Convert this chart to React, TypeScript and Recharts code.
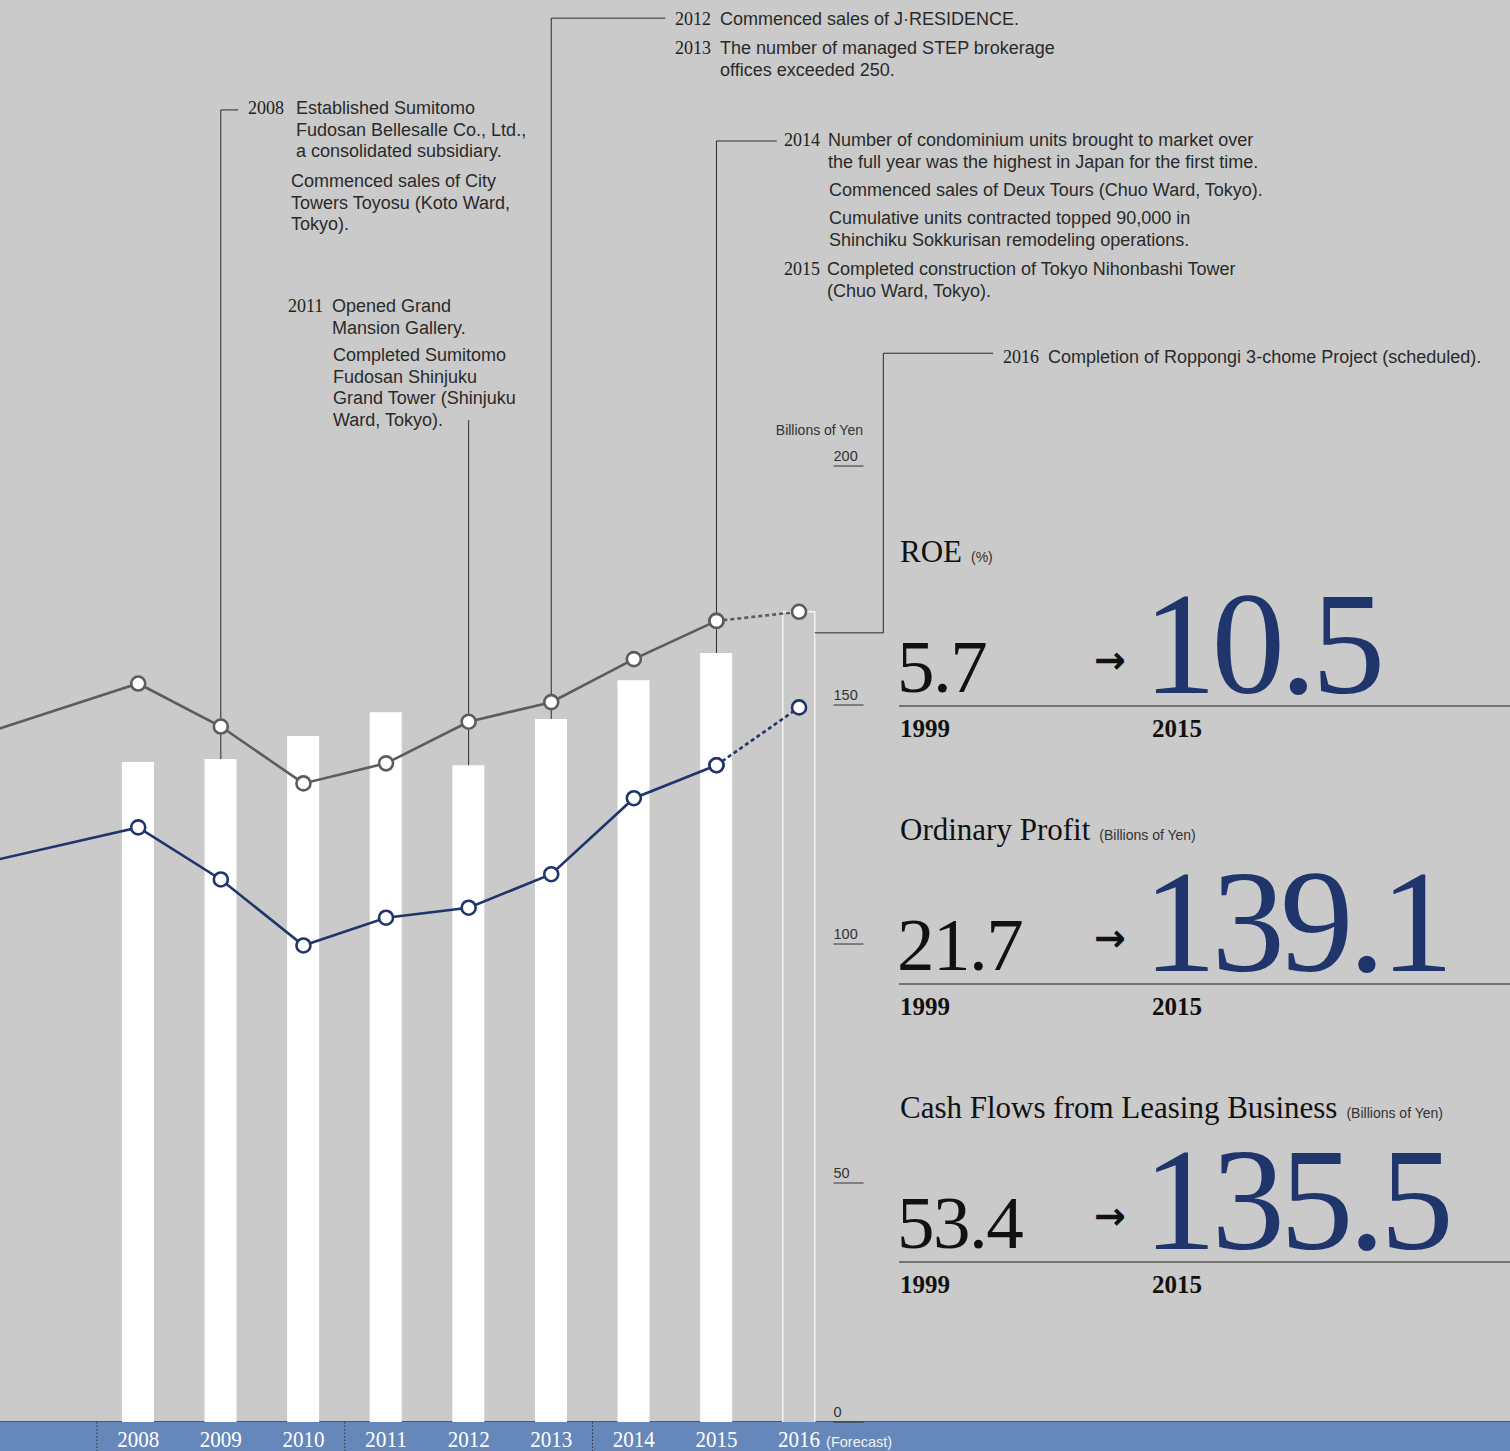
import React from 'react';
import { ComposedChart, Bar, Line, XAxis, YAxis, ReferenceLine, Cell } from 'recharts';

// fiscal years; 2006 is only the lead-in point that sits off the left edge
const years = [2006, 2008, 2009, 2010, 2011, 2012, 2013, 2014, 2015, 2016];
// Billions of Yen
const barValues = [null, 138.1, 138.7, 143.5, 148.5, 137.4, 147.1, 155.2, 160.9, 169.5];
const grayValues = [143.3, 154.5, 145.5, 133.6, 137.8, 146.5, 150.6, 159.6, 167.6, 169.5];
const navyValues = [116.5, 124.4, 113.5, 99.7, 105.5, 107.6, 114.6, 130.5, 137.4, 149.5];
const lastActualYear = 2015;
const forecastYear = 2016;

const xTicks = [2008, 2009, 2010, 2011, 2012, 2013, 2014, 2015, 2016];
const yTicks = [0, 50, 100, 150, 200];
const planBreaks = [2007.5, 2010.5, 2013.5];

const data = years.map((year, i) => ({
  year,
  bar: barValues[i],
  gray: year <= lastActualYear ? grayValues[i] : null,
  grayF: year >= lastActualYear ? grayValues[i] : null,
  navy: year <= lastActualYear ? navyValues[i] : null,
  navyF: year >= lastActualYear ? navyValues[i] : null,
}));

// leader lines from the bars up to the notes (axis units)
const leaders = [
  { year: 2009, top: 274.5, to: 2009.21 },
  { year: 2012, top: 209.6, to: null },
  { year: 2013, top: 293.7, to: 2014.38 },
  { year: 2015, top: 268.0, to: 2015.73 },
];
const leader2016 = { x: 2017.02, low: 165.1, top: 223.6, to: 2018.35, barEdge: 2016.19 };

const notes = [
  { year: '2012', yearX: 675, x: 720, y: 19, lines: ['Commenced sales of J·RESIDENCE.'] },
  { year: '2013', yearX: 675, x: 720, y: 48, lines: ['The number of managed STEP brokerage', 'offices exceeded 250.'] },
  { year: '2008', yearX: 248, x: 296, y: 108, lines: ['Established Sumitomo', 'Fudosan Bellesalle Co., Ltd.,', 'a consolidated subsidiary.'] },
  { year: '', yearX: 0, x: 291, y: 181, lines: ['Commenced sales of City', 'Towers Toyosu (Koto Ward,', 'Tokyo).'] },
  { year: '2011', yearX: 288, x: 332, y: 306, lines: ['Opened Grand', 'Mansion Gallery.'] },
  { year: '', yearX: 0, x: 333, y: 355, lines: ['Completed Sumitomo', 'Fudosan Shinjuku', 'Grand Tower (Shinjuku', 'Ward, Tokyo).'] },
  { year: '2014', yearX: 784, x: 828, y: 140, lines: ['Number of condominium units brought to market over', 'the full year was the highest in Japan for the first time.'] },
  { year: '', yearX: 0, x: 829, y: 190, lines: ['Commenced sales of Deux Tours (Chuo Ward, Tokyo).'] },
  { year: '', yearX: 0, x: 829, y: 218, lines: ['Cumulative units contracted topped 90,000 in', 'Shinchiku Sokkurisan remodeling operations.'] },
  { year: '2015', yearX: 784, x: 827, y: 269, lines: ['Completed construction of Tokyo Nihonbashi Tower', '(Chuo Ward, Tokyo).'] },
  { year: '2016', yearX: 1003, x: 1048, y: 357, lines: ['Completion of Roppongi 3-chome Project (scheduled).'] },
];

const metrics = [
  { title: 'ROE', unit: '(%)', from: '5.7', to: '10.5', fromYear: '1999', toYear: '2015' },
  { title: 'Ordinary Profit', unit: '(Billions of Yen)', from: '21.7', to: '139.1', fromYear: '1999', toYear: '2015' },
  { title: 'Cash Flows from Leasing Business', unit: '(Billions of Yen)', from: '53.4', to: '135.5', fromYear: '1999', toYear: '2015' },
];

const BG = '#c9cac9';
const GRAY = '#5c5c5c';
const NAVY = '#1f356b';
const SANS = '"Liberation Sans", Arial, sans-serif';
const SERIF = '"Liberation Serif", "Times New Roman", serif';

const YTick = ({ x, y, payload }: any) => (
  <g>
    <text x={x - 30} y={y - 5} fontSize={14.5} fill="#333" fontFamily={SANS}>
      {payload.value}
    </text>
    <line x1={x - 30} x2={x} y1={y} y2={y} stroke="#333" strokeWidth={1} />
  </g>
);

const XTick = ({ x, y, payload }: any) => (
  <g>
    <text
      x={x}
      y={y + 25}
      textAnchor="middle"
      fontSize={24}
      fontFamily={SERIF}
      fill="#fff"
      textLength={42}
      lengthAdjust="spacingAndGlyphs"
    >
      {payload.value}
    </text>
    {payload.value === forecastYear && (
      <text x={x + 27} y={y + 25} fontSize={14.5} fill="#f2f2f2" fontFamily={SANS}>
        (Forecast)
      </text>
    )}
  </g>
);

const dotStyle = (color: string) => ({
  r: 7,
  fill: '#fff',
  stroke: color,
  strokeWidth: 2.6,
  strokeDasharray: 'none',
});

export default function App() {
  return (
    <div
      style={{
        position: 'absolute',
        left: 0,
        top: 0,
        width: 1510,
        height: 1451,
        overflow: 'hidden',
        background: BG,
      }}
    >
      {/* axis band */}
      <div
        style={{
          position: 'absolute',
          left: 0,
          top: 1421,
          width: 1510,
          height: 30,
          background: '#6587ba',
          borderTop: '1.5px solid #4c5869',
        }}
      />
      <div style={{ position: 'absolute', left: -27.5, top: 0 }}>
        <ComposedChart
          width={1040.5}
          height={1451}
          data={data}
          margin={{ top: 0, right: 150, bottom: 0, left: 0 }}
        >
          <XAxis
            type="number"
            dataKey="year"
            domain={[2006, 2016.78]}
            allowDataOverflow
            ticks={xTicks}
            interval={0}
            tick={<XTick />}
            tickLine={false}
            axisLine={false}
            tickSize={0}
            tickMargin={0}
            height={29}
          />
          <YAxis
            orientation="right"
            mirror
            domain={[0, 297.5]}
            allowDataOverflow
            ticks={yTicks}
            interval={0}
            tick={<YTick />}
            tickLine={false}
            axisLine={false}
            tickSize={0}
            tickMargin={0}
          />
          {planBreaks.map((b) => (
            <ReferenceLine
              key={`plan-${b}`}
              segment={[{ x: b, y: 0 }, { x: b, y: -6.1 }]}
              ifOverflow="visible"
              stroke="#2b3445"
              strokeWidth={1}
              strokeDasharray="1.5 2"
            />
          ))}
          {leaders.map((l) => {
            const base = barValues[years.indexOf(l.year)] as number;
            return (
              <React.Fragment key={`lead-${l.year}`}>
                <ReferenceLine
                  segment={[{ x: l.year, y: base }, { x: l.year, y: l.top }]}
                  ifOverflow="visible"
                  stroke="#2a2a2a"
                  strokeWidth={1}
                />
                {l.to !== null && (
                  <ReferenceLine
                    segment={[{ x: l.year, y: l.top }, { x: l.to, y: l.top }]}
                    ifOverflow="visible"
                    stroke="#2a2a2a"
                    strokeWidth={1}
                  />
                )}
              </React.Fragment>
            );
          })}
          <ReferenceLine
            segment={[{ x: leader2016.barEdge, y: leader2016.low }, { x: leader2016.x, y: leader2016.low }]}
            ifOverflow="visible"
            stroke="#2a2a2a"
            strokeWidth={1}
          />
          <ReferenceLine
            segment={[{ x: leader2016.x, y: leader2016.low }, { x: leader2016.x, y: leader2016.top }]}
            ifOverflow="visible"
            stroke="#2a2a2a"
            strokeWidth={1}
          />
          <ReferenceLine
            segment={[{ x: leader2016.x, y: leader2016.top }, { x: leader2016.to, y: leader2016.top }]}
            ifOverflow="visible"
            stroke="#2a2a2a"
            strokeWidth={1}
          />
          <Bar dataKey="bar" barSize={32} isAnimationActive={false}>
            {data.map((d, i) => (
              <Cell
                key={`bar-${i}`}
                fill={d.year === forecastYear ? 'none' : '#ffffff'}
                stroke={d.year === forecastYear ? '#f4f4f4' : 'none'}
                strokeWidth={1.4}
              />
            ))}
          </Bar>
          <Line
            dataKey="gray"
            stroke={GRAY}
            strokeWidth={2.6}
            dot={dotStyle(GRAY)}
            activeDot={false}
            isAnimationActive={false}
          />
          <Line
            dataKey="grayF"
            stroke={GRAY}
            strokeWidth={2.6}
            strokeDasharray="4 3"
            dot={dotStyle(GRAY)}
            activeDot={false}
            isAnimationActive={false}
          />
          <Line
            dataKey="navy"
            stroke={NAVY}
            strokeWidth={2.6}
            dot={dotStyle(NAVY)}
            activeDot={false}
            isAnimationActive={false}
          />
          <Line
            dataKey="navyF"
            stroke={NAVY}
            strokeWidth={2.6}
            strokeDasharray="4 3"
            dot={dotStyle(NAVY)}
            activeDot={false}
            isAnimationActive={false}
          />
        </ComposedChart>
      </div>

      {/* notes and key figures */}
      <svg
        width={1510}
        height={1451}
        style={{ position: 'absolute', left: 0, top: 0, pointerEvents: 'none' }}
      >
        <text x={863} y={435} textAnchor="end" fontSize={14} fill="#333" fontFamily={SANS}>
          Billions of Yen
        </text>
        {notes.map((n, i) => (
          <g key={`note-${i}`}>
            {n.year && (
              <text x={n.yearX} y={n.y + 6} fontSize={18} fill="#222" fontFamily={SERIF}>
                {n.year}
              </text>
            )}
            {n.lines.map((line, j) => (
              <text key={j} x={n.x} y={n.y + 6 + j * 21.5} fontSize={18} fill="#2a2a2a" fontFamily={SANS}>
                {line}
              </text>
            ))}
          </g>
        ))}
        {metrics.map((m, i) => {
          const t = 706 + i * 278;
          return (
            <g key={`metric-${i}`}>
              <text x={900} y={t - 144} fontSize={31} fill="#111" fontFamily={SERIF}>
                {m.title}
                <tspan dx={9} fontSize={14} fill="#333" fontFamily={SANS}>
                  {m.unit}
                </tspan>
              </text>
              <text x={897} y={t - 14} fontSize={75} fill="#111" fontFamily={SERIF} letterSpacing={-1.5}>
                {m.from}
              </text>
              <text x={1110} y={t - 33} textAnchor="middle" fontSize={38} fontWeight="bold" fill="#111" fontFamily="DejaVu Sans, sans-serif">
                →
              </text>
              <text x={1143} y={t - 13} fontSize={147} fill={NAVY} fontFamily={SERIF} letterSpacing={-5}>
                {m.to}
              </text>
              <line x1={899} x2={1510} y1={t} y2={t} stroke="#555" strokeWidth={1.6} />
              <text x={900} y={t + 31} fontSize={25} fontWeight="bold" fill="#111" fontFamily={SERIF}>
                {m.fromYear}
              </text>
              <text x={1152} y={t + 31} fontSize={25} fontWeight="bold" fill="#111" fontFamily={SERIF}>
                {m.toYear}
              </text>
            </g>
          );
        })}
      </svg>
    </div>
  );
}
